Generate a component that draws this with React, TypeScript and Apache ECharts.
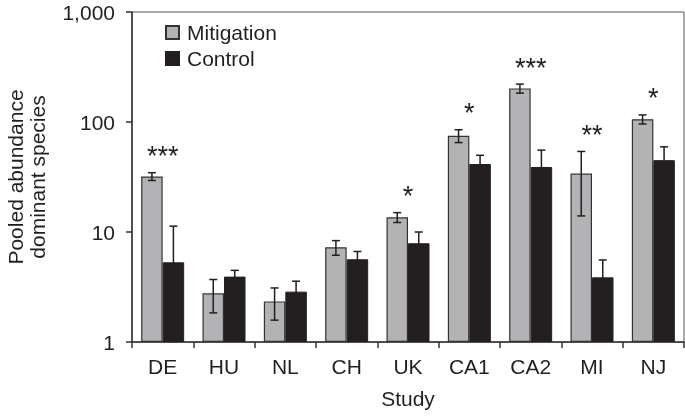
import React, { useEffect, useRef } from "react";
import * as echarts from "echarts";

const studies = ["DE", "HU", "NL", "CH", "UK", "CA1", "CA2", "MI", "NJ"];
const mitigation = [32, 2.77, 2.34, 7.25, 13.6, 75, 202, 34, 106];
const mitigationErr = [2.6, 0.93, 0.76, 1.1, 1.4, 10, 19, 20, 10];
const control = [5.3, 3.93, 2.87, 5.65, 7.9, 41.5, 39, 3.87, 45];
const controlErr = [6, 0.55, 0.7, 1.0, 2.1, 8.3, 16.5, 1.7, 14.5];
const stars = ["***", "", "", "", "*", "*", "***", "**", "*"];
const yTicks = [1, 10, 100, 1000];

const BAR_W = 21.5;
const INK = "#231f20";
const GREY = "#b3b3b5";
const FONT = "Liberation Sans, Arial, sans-serif";
const FS = 21;

function errorSeries(values: number[], errs: number[], side: number) {
  return {
    type: "custom",
    z: 5,
    silent: true,
    data: values.map((v, i) => [i, Math.max(v - errs[i], 1.01), v + errs[i]]),
    renderItem: (params: any, api: any) => {
      const i = api.value(0);
      const lo = api.coord([i, api.value(1)]);
      const hi = api.coord([i, api.value(2)]);
      const x = lo[0] + side * (BAR_W / 2);
      const cap = 4;
      const style = { stroke: INK, lineWidth: 1.5 };
      return {
        type: "group",
        children: [
          { type: "line", shape: { x1: x, y1: lo[1], x2: x, y2: hi[1] }, style },
          { type: "line", shape: { x1: x - cap, y1: hi[1], x2: x + cap, y2: hi[1] }, style },
          { type: "line", shape: { x1: x - cap, y1: lo[1], x2: x + cap, y2: lo[1] }, style },
        ],
      };
    },
  };
}

export default function App() {
  const ref = useRef<HTMLDivElement>(null);
  useEffect(() => {
    if (!ref.current) return;
    const chart = echarts.init(ref.current, null, { renderer: "svg" });
    const starTop = studies.map((_, i) =>
      Math.max(mitigation[i] + mitigationErr[i], control[i] + controlErr[i])
    );
    chart.setOption({
      animation: false,
      textStyle: { fontFamily: FONT, color: INK },
      grid: {
        left: 132,
        right: 1,
        top: 12,
        bottom: 74,
        containLabel: false,
        outerBoundsMode: "none",
        show: true,
        borderColor: "#555",
        borderWidth: 1,
      },
      legend: {
        orient: "vertical",
        left: 160,
        top: 17,
        itemWidth: 13,
        itemHeight: 13,
        itemGap: 5,
        icon: "rect",
        textStyle: { fontSize: FS, color: INK, fontFamily: FONT, padding: [0, 0, 0, 3] },
        data: ["Mitigation", "Control"],
      },
      xAxis: {
        type: "category",
        data: studies,
        name: "Study",
        nameLocation: "middle",
        nameGap: 46,
        nameTextStyle: { fontSize: FS, color: INK, fontFamily: FONT },
        axisLine: { lineStyle: { color: "#333", width: 1.5 } },
        axisTick: { show: true, length: 6, interval: 0, lineStyle: { color: "#333", width: 1.5 } },
        axisLabel: { fontSize: FS, color: INK, margin: 14, interval: 0, fontFamily: FONT },
      },
      yAxis: {
        type: "log",
        logBase: 10,
        min: yTicks[0],
        max: yTicks[yTicks.length - 1],
        name: "Pooled abundance\ndominant species",
        nameLocation: "middle",
        nameRotate: 90,
        nameGap: 84,
        nameTextStyle: { fontSize: FS, color: INK, lineHeight: 22, fontFamily: FONT },
        splitLine: { show: false },
        axisLine: { show: true, lineStyle: { color: "#333", width: 1.5 } },
        axisTick: { show: true, length: 6, lineStyle: { color: "#333", width: 1.5 } },
        axisLabel: {
          fontSize: FS,
          color: INK,
          margin: 17,
          fontFamily: FONT,
          formatter: (v: number) => v.toLocaleString("en-US"),
        },
      },
      series: [
        {
          name: "Mitigation",
          type: "bar",
          data: mitigation,
          barWidth: BAR_W,
          barGap: "0%",
          itemStyle: { color: GREY, borderColor: "#333", borderWidth: 1.2 },
        },
        {
          name: "Control",
          type: "bar",
          data: control,
          barWidth: BAR_W,
          barGap: "0%",
          itemStyle: { color: INK, borderColor: INK, borderWidth: 1 },
        },
        errorSeries(mitigation, mitigationErr, -1),
        errorSeries(control, controlErr, 1),
        {
          type: "custom",
          z: 6,
          silent: true,
          data: studies.map((_, i) => [i, starTop[i]]),
          renderItem: (params: any, api: any) => {
            const i = api.value(0);
            const p = api.coord([i, api.value(1)]);
            return {
              type: "text",
              x: p[0],
              y: p[1] - 3,
              style: {
                text: stars[i],
                fontSize: 27,
                fontFamily: FONT,
                fill: INK,
                align: "center",
                verticalAlign: "bottom",
              },
            };
          },
        },
      ],
    });
    return () => chart.dispose();
  }, []);
  return (
    <div
      ref={ref}
      style={{ position: "fixed", left: 0, top: 0, width: 685, height: 416 }}
    />
  );
}
